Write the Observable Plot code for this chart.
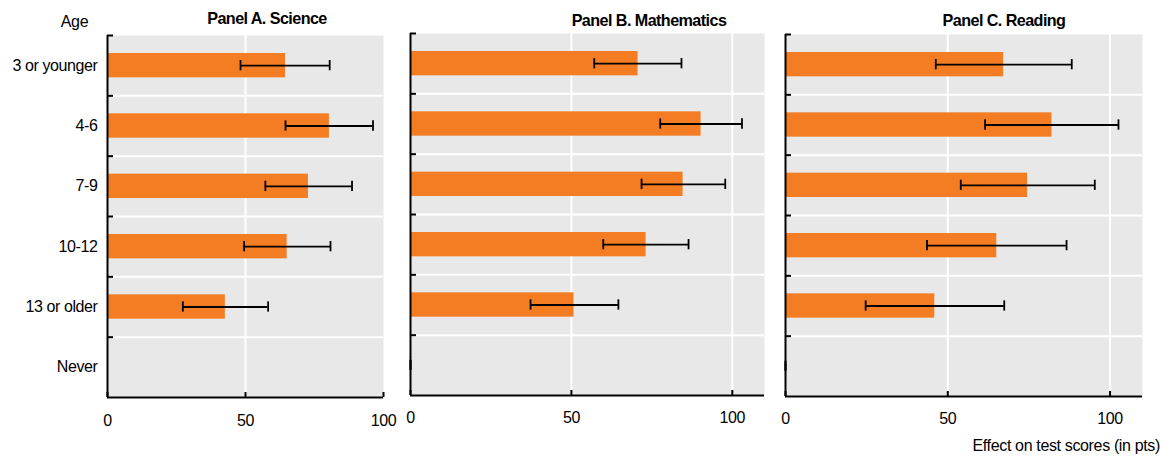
<!DOCTYPE html>
<html>
<head>
<meta charset="utf-8">
<script src="https://cdn.jsdelivr.net/npm/d3@7"></script>
<script src="https://cdn.jsdelivr.net/npm/@observablehq/plot@0.6"></script>
<style>
  body { margin: 0; background: #fff; }
  #chart { position: relative; width: 1161px; height: 458px; font-family: "Liberation Sans", Arial, sans-serif; color: #000; }
  #chart svg { position: absolute; top: 0; overflow: visible; }
  .lbl { position: absolute; white-space: nowrap; line-height: 1; }
  .title { font-weight: bold; font-size: 17px; letter-spacing: -0.6px; transform: translateX(-50%) scaleX(0.95); }
  .reg { font-size: 16px; letter-spacing: -0.35px; }
</style>
</head>
<body>
<div id="chart"></div>
<script>
// ---- data ----
const ages = ["3 or younger", "4-6", "7-9", "10-12", "13 or older", "Never"];

const scienceValue = [64.5, 80.4, 72.8, 65.1, 42.7, null];
const scienceLow   = [48.2, 64.5, 57.2, 49.5, 27.3, null];
const scienceHigh  = [80.5, 96.2, 88.6, 80.8, 58.2, null];

const mathValue = [70.7, 90.3, 84.7, 73.2, 50.8, 0];
const mathLow   = [57.1, 77.6, 71.8, 59.9, 37.3, 0];
const mathHigh  = [84.2, 103.0, 97.8, 86.4, 64.6, 0];

const readingValue = [67.2, 82.1, 74.6, 65.1, 46.0, 0];
const readingLow   = [46.3, 61.5, 54.0, 43.6, 24.7, 0];
const readingHigh  = [88.2, 102.6, 95.3, 86.6, 67.4, 0];

const xTicks = [0, 50, 100];
const panelTitles = ["Panel A. Science", "Panel B. Mathematics", "Panel C. Reading"];
const yTitle = "Age";
const xTitle = "Effect on test scores (in pts)";

// ---- drawing ----
const ORANGE = "#f47c22";
const GREY = "#e8e8e8";
const H = 458;
const chart = document.getElementById("chart");

function panel({values, lows, highs, xMax, plotLeft, plotRight, top, bottom, marginLeft, marginRight, showY, tickPad}) {
  const rows = ages.map((age, i) => ({age, i, value: values[i], low: lows[i], high: highs[i]}));
  const withVal = rows.filter(d => d.value != null && d.value > 0);
  const withErr = rows.filter(d => d.low != null);
  const n = ages.length;
  const marks = [
    Plot.frame({fill: GREY, stroke: null}),
    Plot.ruleX(xTicks.filter(d => d > 0 && d < xMax), {stroke: "white", strokeWidth: 2}),
    Plot.ruleY(d3.range(1, n), {stroke: "white", strokeWidth: 2}),
    Plot.rect(withVal, {x1: 0, x2: "value", y1: "i", y2: d => d.i + 1, insetTop: 18, insetBottom: 18, fill: ORANGE}),
    Plot.ruleY(withErr, {x1: "low", x2: "high", y: d => d.i + 0.5, stroke: "black", strokeWidth: 1.8}),
    Plot.ruleX(withErr, {x: "low", y1: d => d.i + 0.5 - 0.085, y2: d => d.i + 0.5 + 0.085, stroke: "black", strokeWidth: 1.8}),
    Plot.ruleX(withErr, {x: "high", y1: d => d.i + 0.5 - 0.085, y2: d => d.i + 0.5 + 0.085, stroke: "black", strokeWidth: 1.8}),
    // inward ticks on left axis at band boundaries
    Plot.axisY(d3.range(0, n), {anchor: "left", tickSize: 6, insetLeft: 6, strokeWidth: 2, tickFormat: () => "", label: null}),
    // inward ticks on bottom axis
    Plot.axisX(xTicks, {anchor: "bottom", tickSize: 5, insetBottom: 5, strokeWidth: 2, tickFormat: () => "", label: null}),
    Plot.axisX(xTicks, {anchor: "bottom", tickSize: 0, tickPadding: tickPad, fontSize: 16, label: null}),
    Plot.ruleX([0], {stroke: "black", strokeWidth: 2}),
    Plot.ruleY([n], {stroke: "black", strokeWidth: 2})
  ];
  if (showY) {
    marks.push(Plot.axisY(d3.range(0, n).map(i => i + 0.5), {anchor: "left", tickSize: 0, tickPadding: 10, fontSize: 16, tickFormat: d => ages[Math.floor(d)], label: null}));
  }
  const svg = Plot.plot({
    width: marginLeft + (plotRight - plotLeft) + marginRight,
    height: H,
    marginLeft, marginRight,
    marginTop: top,
    marginBottom: H - bottom,
    x: {domain: [0, xMax], axis: null},
    y: {domain: [n, 0], axis: null},
    style: {fontFamily: "'Liberation Sans', Arial, sans-serif", fontSize: "16px", letterSpacing: "-0.4px", color: "black", background: "transparent", overflow: "visible"},
    marks
  });
  svg.style.left = (plotLeft - marginLeft) + "px";
  svg.style.position = "absolute";
  svg.style.top = "0px";
  chart.appendChild(svg);
}

panel({values: scienceValue, lows: scienceLow, highs: scienceHigh, xMax: 100, plotLeft: 107, plotRight: 383, top: 35, bottom: 397, marginLeft: 107, marginRight: 15, showY: true, tickPad: 17});
panel({values: mathValue, lows: mathLow, highs: mathHigh, xMax: 110, plotLeft: 410, plotRight: 764, top: 33, bottom: 395, marginLeft: 12, marginRight: 9, showY: false, tickPad: 16});
panel({values: readingValue, lows: readingLow, highs: readingHigh, xMax: 110, plotLeft: 785, plotRight: 1142, top: 34, bottom: 396, marginLeft: 12, marginRight: 19, showY: false, tickPad: 16});

function label(text, cls, css) {
  const d = document.createElement("div");
  d.className = "lbl " + cls;
  d.textContent = text;
  Object.assign(d.style, css);
  chart.appendChild(d);
  return d;
}
label(yTitle, "reg", {left: "74.5px", top: "14px", transform: "translateX(-50%)"});
label(panelTitles[0], "title", {left: "266.5px", top: "9.6px"});
label(panelTitles[1], "title", {left: "648.7px", top: "11.6px"});
label(panelTitles[2], "title", {left: "1004px", top: "12px"});
label(xTitle, "reg", {right: "1px", top: "438px"});
</script>
</body>
</html>
